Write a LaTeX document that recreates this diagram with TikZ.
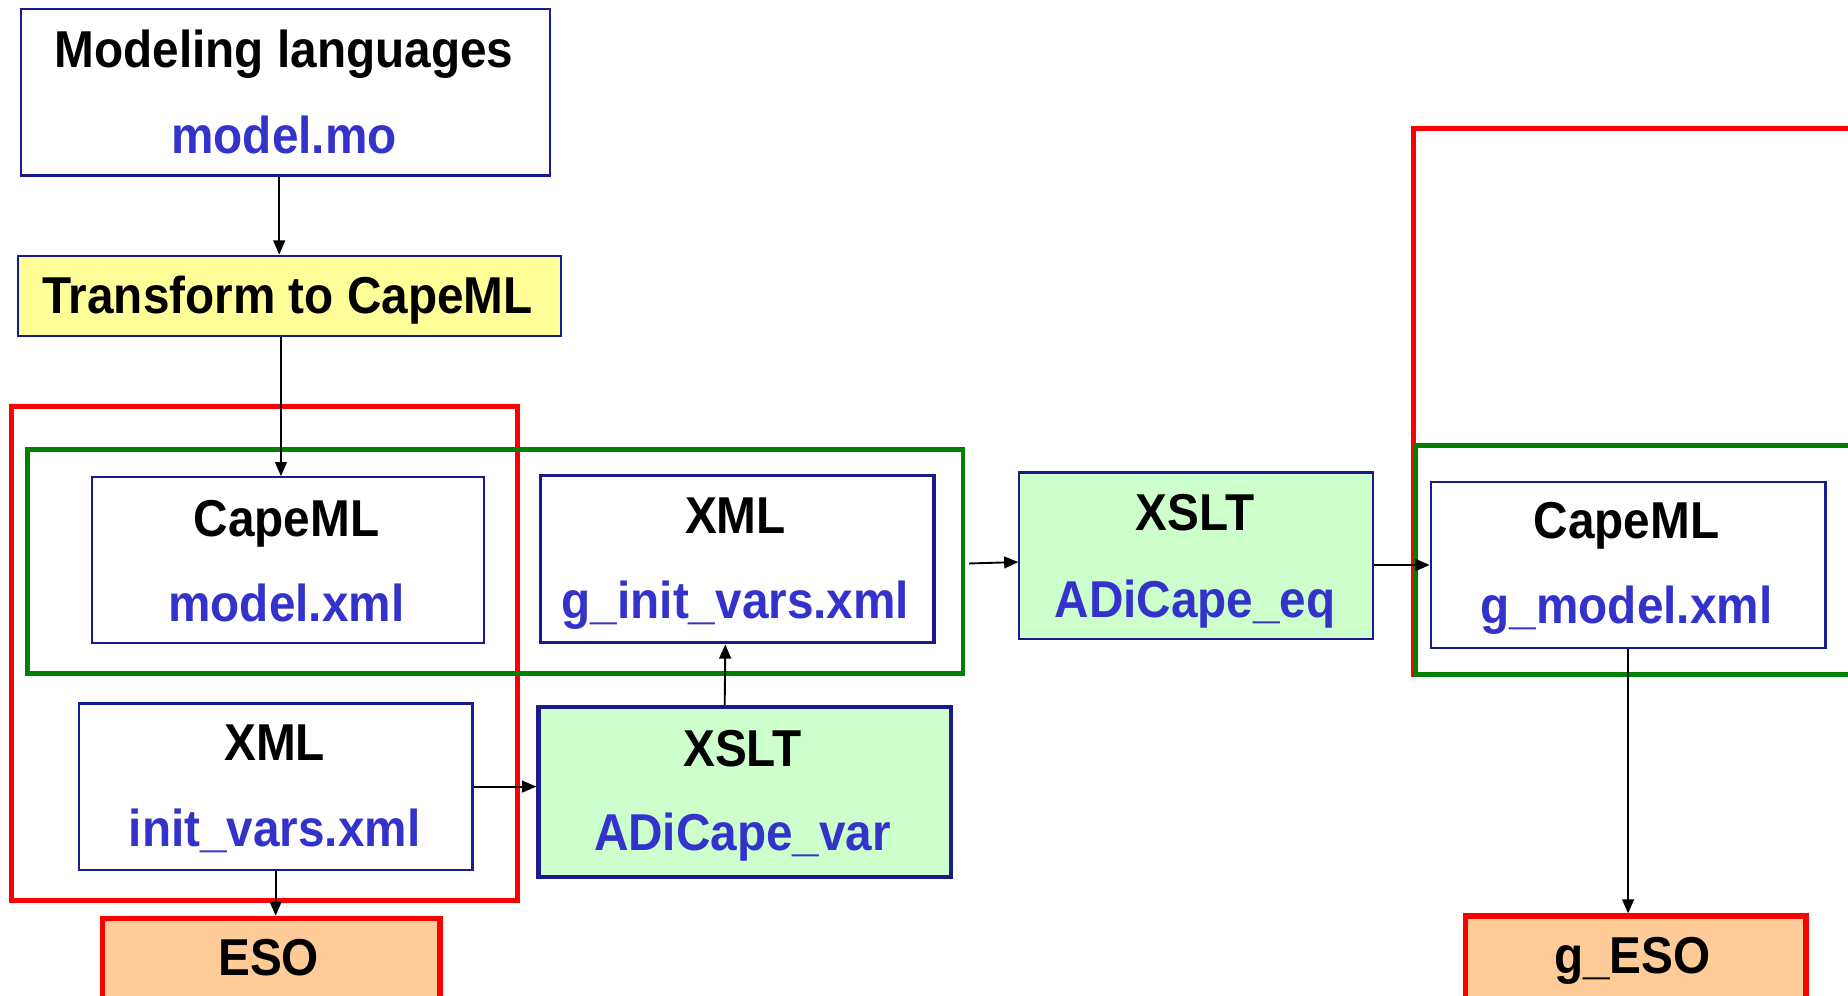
\documentclass[tikz,border=0pt]{standalone}
\usepackage{fontspec}
\newfontfamily\lab{Liberation Sans}[FakeStretch=0.92]
\usetikzlibrary{arrows.meta,calc}
\definecolor{navy}{HTML}{1A1A8C}
\definecolor{tblue}{HTML}{3333CC}
\definecolor{yel}{HTML}{FFFF99}
\definecolor{lgreen}{HTML}{CCFFCC}
\definecolor{orng}{HTML}{FFCC99}
\definecolor{gframe}{HTML}{008000}
\definecolor{rframe}{HTML}{FF0000}
\begin{document}
\begin{tikzpicture}[x=1pt,y=-1pt,
  fbox/.style={draw=navy, line width=1.8pt, fill=white, inner sep=0pt, anchor=north west},
  redframe/.style={draw=rframe, line width=4.2pt, inner sep=0pt, anchor=north west},
  greenframe/.style={draw=gframe, line width=4.2pt, inner sep=0pt, anchor=north west},
  esobox/.style={draw=rframe, fill=orng, line width=4.5pt, inner sep=0pt, anchor=north west},
  txt/.style={anchor=base, inner sep=0pt, font=\lab\bfseries\fontsize{44}{50}\selectfont},
  blk/.style={txt, text=black},
  blu/.style={txt, text=tblue},
  arr/.style={line width=1.6pt, -{Triangle[length=12pt,width=10pt]}}
]
\useasboundingbox (0,0) rectangle (1568,845);
\clip (0,0) rectangle (1568,845);
\fill[white] (0,0) rectangle (1568,845);

% group frames
\node[redframe, minimum width=429pt, minimum height=419pt] (r1) at (8,343) {};
\node[greenframe, minimum width=794pt, minimum height=190pt] (g1) at (21,379) {};
\node[redframe, minimum width=420pt, minimum height=463pt] (r2) at (1197,107) {};
\node[greenframe, minimum width=420pt, minimum height=194pt] (g2) at (1199,376) {};

% boxes
\node[fbox, minimum width=449pt, minimum height=141pt] (mod) at (17,7) {};
\node[fbox, fill=yel, minimum width=461pt, minimum height=68pt] (trans) at (14,216) {};
\node[fbox, minimum width=333pt, minimum height=141pt] (capeml) at (77,404) {};
\node[fbox, line width=2.8pt, minimum width=334pt, minimum height=142pt] (ginit) at (457,402) {};
\node[fbox, fill=lgreen, minimum width=300pt, minimum height=141pt] (xslteq) at (864,400) {};
\node[fbox, minimum width=335pt, minimum height=141pt] (gmodel) at (1213,408) {};
\node[fbox, minimum width=334pt, minimum height=141pt] (initvars) at (66,596) {};
\node[fbox, fill=lgreen, line width=3.8pt, minimum width=350pt, minimum height=144pt] (xsltvar) at (455,598) {};
\node[esobox, minimum width=286pt, minimum height=90pt] (eso) at (85,777) {};
\node[esobox, minimum width=289pt, minimum height=90pt] (geso) at (1241,775) {};

% texts
\node[blk] (t1a) at (241,57) {Modeling languages};
\node[blu] (t1b) at (241,130) {model.mo};
\node[blk] (t2) at (244,266) {Transform to CapeML};
\node[blk] (t3a) at (243,455) {CapeML};
\node[blu] (t3b) at (243,527) {model.xml};
\node[blk] (t4a) at (624,453) {XML};
\node[blu] (t4b) at (624,525) {g\_init\_vars.xml};
\node[blk] (t5a) at (1014,450) {XSLT};
\node[blu] (t5b) at (1014,524) {ADiCape\_eq};
\node[blk] (t6a) at (1380,457) {CapeML};
\node[blu] (t6b) at (1380,529) {g\_model.xml};
\node[blk] (t7a) at (233,645) {XML};
\node[blu] (t7b) at (233,718) {init\_vars.xml};
\node[blk] (t8a) at (630,650) {XSLT};
\node[blu] (t8b) at (630,722) {ADiCape\_var};
\node[blk] (t9) at (228,828) {ESO};
\node[blk] (t10) at (1385,826) {g\_ESO};

% connectors
\draw[arr] ($(mod.south)+(-5.5,0)$) -- ($(trans.north)+(-8.5,0)$);
\draw[arr] ($(trans.south)+(-7,0)$) -- ($(capeml.north)+(-6,0)$);
\draw[arr] ($(g1.east)+(3,2)$) -- ($(xslteq.west)+(0,5.5)$);
\draw[arr] (xslteq.east |- gmodel.west) -- (gmodel.west);
\draw[arr] (gmodel.south) -- (gmodel.south |- geso.north);
\draw[arr] (initvars.east) -- (initvars.east -| xsltvar.west);
\draw[arr] ($(xsltvar.north)+(-17,0)$) -- ($(ginit.south)+(-10,0)$);
\draw[arr] (initvars.south) -- (initvars.south |- eso.north);
\end{tikzpicture}
\end{document}
